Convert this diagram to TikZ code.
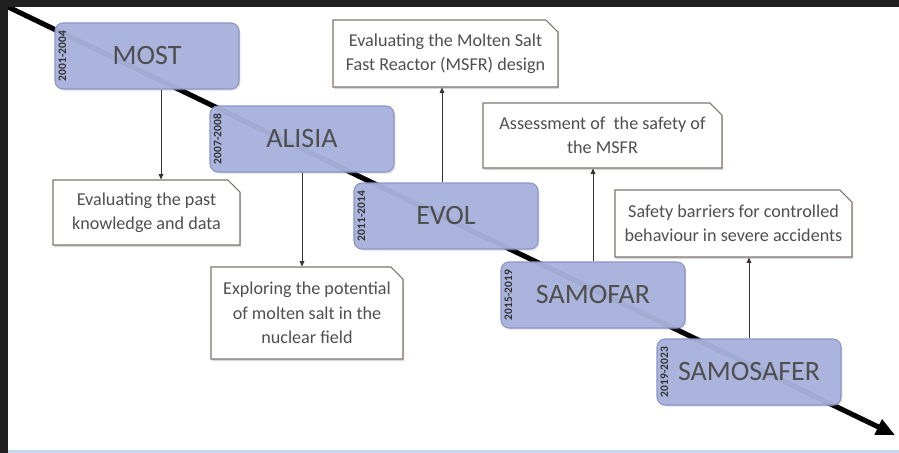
\documentclass[tikz,border=0pt]{standalone}
\usepackage{fontspec}
\setmainfont{Carlito}
\usetikzlibrary{arrows.meta,shapes.misc,shadows}
\definecolor{boxblue}{HTML}{AAB4DC}
\definecolor{boxedge}{HTML}{8A96C8}
\definecolor{txtgray}{HTML}{4F4F4F}
\definecolor{datetxt}{HTML}{333333}
\definecolor{wedge}{HTML}{7D7670}
\definecolor{band}{HTML}{202020}
\definecolor{bottomline}{HTML}{C7D9EE}
\definecolor{connc}{HTML}{333333}
\begin{document}
\begin{tikzpicture}[x=0.75pt,y=-0.75pt,
  phase/.style={draw=boxedge, line width=0.8pt, fill=boxblue, rounded corners=6pt,
    minimum width=138pt, minimum height=49.5pt, inner sep=0pt, text=txtgray,
    font=\fontsize{21}{24}\selectfont,
    drop shadow={shadow xshift=1pt,shadow yshift=-1.2pt,opacity=0.25}},
  datelbl/.style={rotate=90, inner sep=0pt, text=datetxt, font=\fontsize{8.6}{9}\selectfont\bfseries},
  goalbox/.style={draw=wedge, line width=0.8pt, fill=white, chamfered rectangle,
    chamfered rectangle corners=north east, chamfered rectangle xsep=6pt,
    inner sep=0pt, align=center, text=txtgray, font=\fontsize{13.6}{18.3}\selectfont,
    drop shadow={shadow xshift=0.8pt,shadow yshift=-1.5pt,opacity=0.3}},
  timeline/.style={line width=3.8pt, draw=black, -{Triangle[length=14pt,width=12pt]}},
  conn/.style={draw=connc, line width=0.75pt, -{Triangle[length=4pt,width=3.5pt]}}
]
\useasboundingbox (0,0) rectangle (899,453);
\fill[white] (0,0) rectangle (899,453);

% timeline
\coordinate (tstart) at (2,4);
\coordinate (tend) at (895,435);
\draw[timeline] (tstart) -- (tend);

% phases
\node[phase] (MOST) at (147,56) {MOST};
\node[phase] (ALISIA) at (302,139) {ALISIA};
\node[phase] (EVOL) at (446,216) {EVOL};
\node[phase] (SAMOFAR) at (593,295) {SAMOFAR};
\node[phase] (SAMOSAFER) at (749,372) {SAMOSAFER};

% faint trace of the timeline through the boxes
\draw[line width=3.8pt, draw=black, draw opacity=0.045] (tstart) -- (tend);

% dates
\node[datelbl] (d1) at ([xshift=6pt]MOST.west) {2001-2004};
\node[datelbl] (d2) at ([xshift=6pt]ALISIA.west) {2007-2008};
\node[datelbl] (d3) at ([xshift=6pt]EVOL.west) {2011-2014};
\node[datelbl] (d4) at ([xshift=6pt]SAMOFAR.west) {2015-2019};
\node[datelbl] (d5) at ([xshift=6pt]SAMOSAFER.west) {2019-2023};

% goals
\node[goalbox, minimum width=140.25pt, minimum height=48.75pt] (past) at (146.5,212.5)
  {Evaluating the past\\knowledge and data};
\node[goalbox, minimum width=144pt, minimum height=69pt] (explore) at (307,313)
  {Exploring the potential\\of molten salt in the\\nuclear field};
\node[goalbox, minimum width=168.75pt, minimum height=50.25pt] (msfr) at (445.5,53.5)
  {Evaluating the Molten Salt\\Fast Reactor (MSFR) design};
\node[goalbox, minimum width=179.25pt, minimum height=48.75pt] (assess) at (602.5,135.5)
  {Assessment of\ \ the safety of\\the MSFR};
\node[goalbox, minimum width=177.75pt, minimum height=50.25pt] (safety) at (733.5,223.5)
  {Safety barriers for controlled\\behaviour in severe accidents};

% connectors
\draw[conn] ([xshift=10.5pt]MOST.south) -- ([xshift=10.5pt]MOST.south |- past.north);
\draw[conn] (ALISIA.south) -- (ALISIA.south |- explore.north);
\draw[conn] ([xshift=-3pt]EVOL.north) -- ([xshift=-3pt]EVOL.north |- msfr.south);
\draw[conn] (SAMOFAR.north) -- (SAMOFAR.north |- assess.south);
\draw[conn] (SAMOSAFER.north) -- (SAMOSAFER.north |- safety.south);

% frame bands
\fill[band] (0,0) rectangle (899,7);
\fill[band] (0,0) rectangle (8,453);
\fill[bottomline] (8,450) rectangle (899,453);
\end{tikzpicture}
\end{document}
